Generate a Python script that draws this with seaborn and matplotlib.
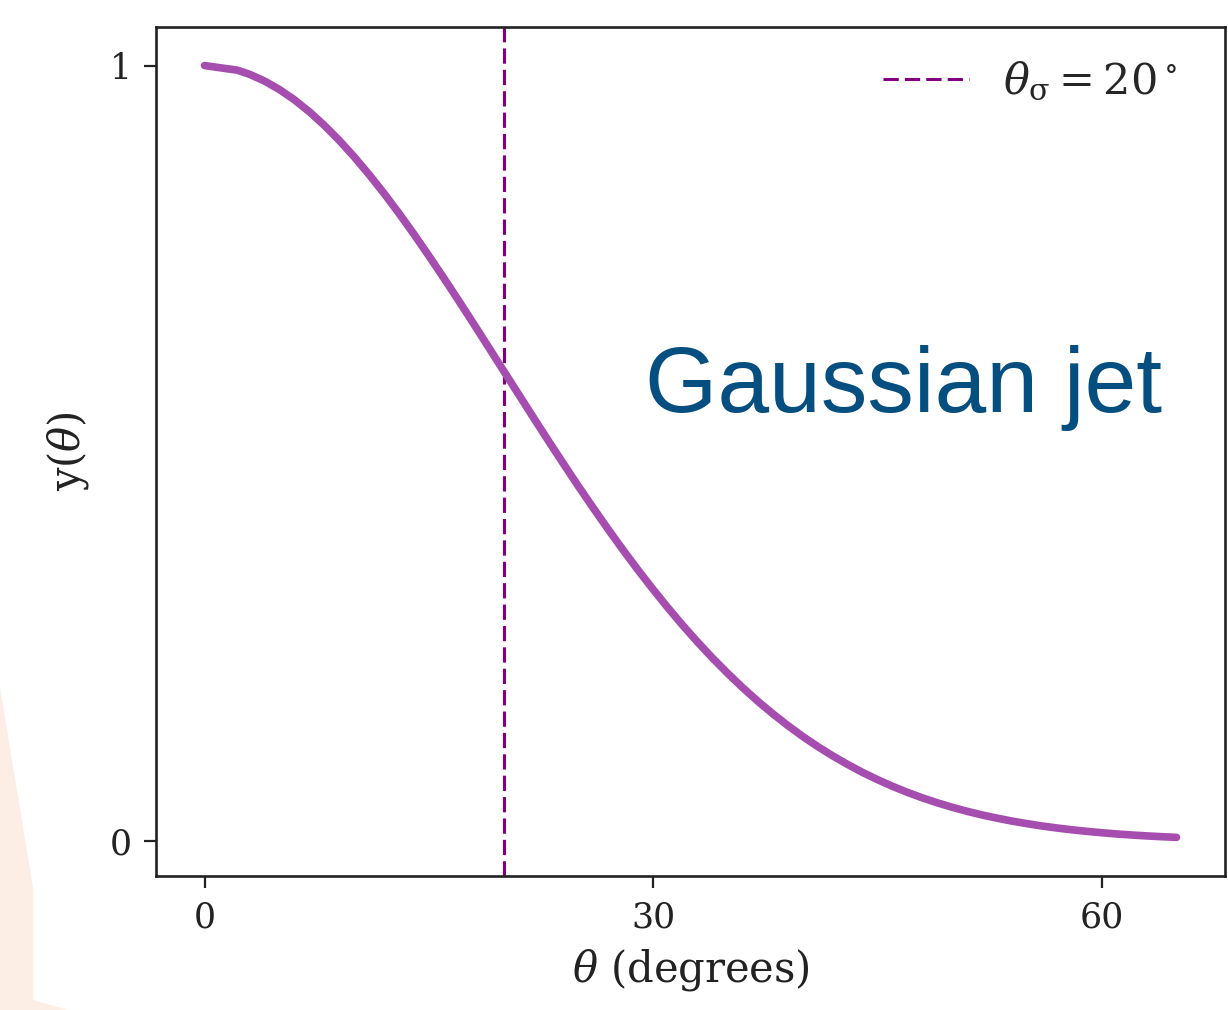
import matplotlib
matplotlib.use("Agg")
import matplotlib.pyplot as plt
import matplotlib.patches as mpatches
import seaborn as sns
import pandas as pd

# Angular profile of a Gaussian jet, sigma = 20 degrees
theta_deg = [0.0, 2.2, 3, 4, 5, 6, 7, 8, 9, 10, 11, 12, 13, 14, 15, 16, 17, 18, 19, 20,
             21, 22, 23, 24, 25, 26, 27, 28, 29, 30, 31, 32, 33, 34, 35, 36, 37, 38, 39, 40,
             41, 42, 43, 44, 45, 46, 47, 48, 49, 50, 51, 52, 53, 54, 55, 56, 57, 58, 59, 60,
             61, 62, 63, 64, 65]
y_theta = [1.0, 0.9940, 0.9888, 0.9802, 0.9692, 0.9560, 0.9406, 0.9231, 0.9037, 0.8825,
           0.8596, 0.8353, 0.8096, 0.7827, 0.7548, 0.7261, 0.6968, 0.6670, 0.6368, 0.6065,
           0.5763, 0.5461, 0.5162, 0.4868, 0.4578, 0.4296, 0.4020, 0.3753, 0.3495, 0.3247,
           0.3008, 0.2780, 0.2563, 0.2357, 0.2163, 0.1979, 0.1806, 0.1645, 0.1494, 0.1353,
           0.1223, 0.1103, 0.0992, 0.0889, 0.0796, 0.0710, 0.0632, 0.0561, 0.0497, 0.0439,
           0.0387, 0.0340, 0.0299, 0.0261, 0.0228, 0.0198, 0.0172, 0.0149, 0.0129, 0.0111,
           0.0095, 0.0082, 0.0070, 0.0060, 0.0051]
theta_sigma = 20
x_ticks = [0, 30, 60]
y_ticks = [0, 1]

sns.set_theme(style="ticks")
plt.rcParams["font.family"] = ["DejaVu Serif"]
plt.rcParams["mathtext.fontset"] = "dejavuserif"

df = pd.DataFrame({"theta": theta_deg, "y": y_theta})

fig = plt.figure(figsize=(12.28, 10.10), dpi=100)

# faint peach shape in the lower-left corner of the slide
fig.patches.append(mpatches.Polygon(
    [(0.0, 0.32), (0.027, 0.12), (0.027, 0.01), (0.055, 0.0), (0.0, 0.0)],
    closed=True, transform=fig.transFigure, facecolor="#fdeee5",
    edgecolor="none", zorder=0))

ax = fig.add_axes([0.127, 0.1327, 0.8706, 0.8406])

ax.axvline(theta_sigma, color="#800080", lw=2.2, dashes=(5, 2),
           label=r"$\theta_\mathrm{\sigma} = 20^\circ$", zorder=2)
sns.lineplot(data=df, x="theta", y="y", ax=ax, color="#a64db0", lw=5.5,
             zorder=3, legend=False)

ax.set_xticks(x_ticks)
ax.set_yticks(y_ticks)
ax.tick_params(axis="both", labelsize=25, length=8.5, width=1.6, colors="#222222",
               labelcolor="#222222", pad=9)
ax.set_xlabel(r"$\theta$ (degrees)", fontsize=30, color="#222222", labelpad=9)
ax.set_ylabel(r"y($\theta$)", fontsize=30, color="#222222", labelpad=13)
for s in ax.spines.values():
    s.set_linewidth(1.9)
    s.set_color("#222222")

ax.legend(loc="upper right", bbox_to_anchor=(0.996, 1.012), frameon=False,
          fontsize=31, handlelength=2.0, borderaxespad=0.6)

ax.text(0.457, 0.547, "Gaussian jet", transform=ax.transAxes,
        fontsize=67, color="#054e80", family="Liberation Sans")

fig.savefig("out.png", dpi=100)
